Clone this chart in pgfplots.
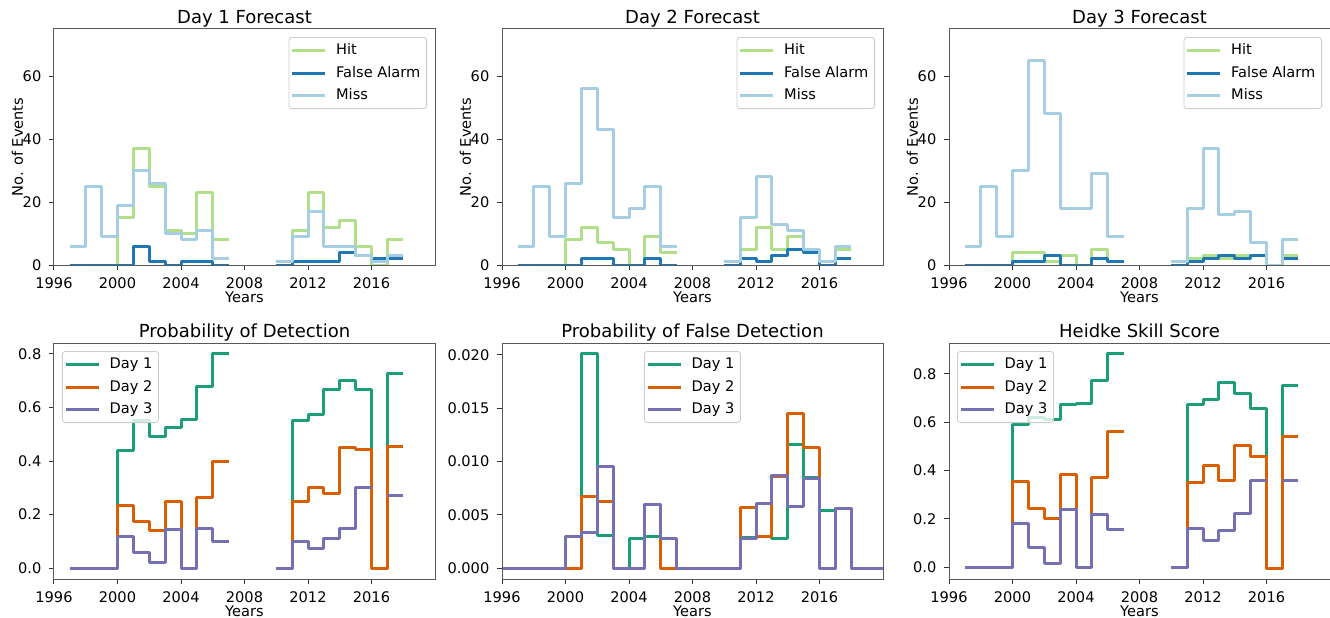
\documentclass[border=0pt]{standalone}
\usepackage{pgfplots}
\pgfplotsset{compat=1.18}
\usepackage{fontspec}
\setmainfont{DejaVu Sans}
\newcommand\ticksize{\fontsize{7.3}{8.8}\selectfont}
\newcommand\titlesize{\fontsize{9}{10.8}\selectfont}
\definecolor{cHit}{RGB}{178,223,138}
\definecolor{cFA}{RGB}{31,120,180}
\definecolor{cMiss}{RGB}{166,206,227}
\definecolor{cD1}{RGB}{27,158,119}
\definecolor{cD2}{RGB}{217,95,2}
\definecolor{cD3}{RGB}{117,112,179}
\pgfplotsset{
  every axis title shift=0pt,
  panel/.style={
    scale only axis, width=190.5pt, height=118pt,
    xmin=1996, xmax=2020,
    xtick={1996,2000,2004,2008,2012,2016},
    tick align=outside, tick pos=left, major tick length=2.5pt,
    every tick/.style={black!80, line width=0.5pt},
    axis line style={black!65, line width=0.5pt},
    axis on top,
    unbounded coords=jump, const plot,
    /pgf/number format/assume math mode=true,
    xticklabel style={anchor=base, inner sep=0pt, yshift=-9pt, font=\ticksize, /pgf/number format/1000 sep={}},
    yticklabel style={anchor=east, inner sep=0pt, xshift=-3.65pt, font=\ticksize},
    xlabel={Years},
    xlabel style={at={(axis description cs:0.5,-0.1568)}, anchor=base, font=\ticksize},
    title style={at={(axis description cs:0.5,1.0254)}, anchor=base, font=\titlesize},
    legend cell align=left,
    legend image code/.code={\draw[##1] (0pt,0pt) -- (16.5pt,0pt);},
    legend style={draw=black!20, fill=white, fill opacity=0.8, draw opacity=1, text opacity=1,
      rounded corners=1.5pt, inner sep=1pt, font=\ticksize, line width=0.4pt,
      nodes={inner sep=2.1pt, text height=5.6pt, text depth=1.4pt},
      /tikz/every odd column/.append style={column sep=2.5pt}},
  },
  top/.style={panel, ymin=0, ymax=75, ytick={0,20,40,60},
    ylabel={No. of Events},
    ylabel style={at={(axis description cs:-0.0814,0.5)}, anchor=base, font=\ticksize},
    legend style={at={(axis description cs:0.979,0.966)}, anchor=north east}},
  hit/.style={color=cHit, line width=1.5pt, line join=round},
  fa/.style={color=cFA, line width=1.5pt, line join=round},
  miss/.style={color=cMiss, line width=1.5pt, line join=round},
  d1/.style={color=cD1, line width=1.5pt, line join=round},
  d2/.style={color=cD2, line width=1.5pt, line join=round},
  d3/.style={color=cD3, line width=1.5pt, line join=round},
  onedec/.style={yticklabel style={/pgf/number format/.cd, fixed, fixed zerofill, precision=1}},
}
\begin{document}
\begin{tikzpicture}
\useasboundingbox (0,0) rectangle (665pt,308.5pt);
% ---------------- Day 1 Forecast
\begin{axis}[top, at={(27pt,176pt)}, anchor=south west, title={Day 1 Forecast}]
\addplot[hit] coordinates {(1997,0)(1998,0)(1999,0)(2000,15)(2001,37)(2002,25)(2003,11)(2004,10)(2005,23)(2006,8)(2007,8)(2008,nan)
 (2010,0)(2011,11)(2012,23)(2013,12)(2014,14)(2015,6)(2016,0)(2017,8)(2018,8)};
\addplot[fa] coordinates {(1997,0)(1998,0)(1999,0)(2000,0)(2001,6)(2002,1)(2003,0)(2004,1)(2005,1)(2006,0)(2007,0)(2008,nan)
 (2010,0)(2011,1)(2012,1)(2013,1)(2014,4)(2015,3)(2016,2)(2017,2)(2018,2)};
\addplot[miss] coordinates {(1997,6)(1998,25)(1999,9)(2000,19)(2001,30)(2002,26)(2003,10)(2004,8)(2005,11)(2006,2)(2007,2)(2008,nan)
 (2010,1)(2011,9)(2012,17)(2013,6)(2014,6)(2015,3)(2016,1)(2017,3)(2018,3)};
\legend{Hit,False Alarm,Miss}
\end{axis}
% ---------------- Day 2 Forecast
\begin{axis}[top, at={(251pt,176pt)}, anchor=south west, title={Day 2 Forecast}]
\addplot[hit] coordinates {(1997,0)(1998,0)(1999,0)(2000,8)(2001,12)(2002,7)(2003,5)(2004,0)(2005,9)(2006,4)(2007,4)(2008,nan)
 (2010,0)(2011,5)(2012,12)(2013,5)(2014,9)(2015,4)(2016,0)(2017,5)(2018,5)};
\addplot[fa] coordinates {(1997,0)(1998,0)(1999,0)(2000,0)(2001,2)(2002,2)(2003,0)(2004,0)(2005,2)(2006,0)(2007,0)(2008,nan)
 (2010,0)(2011,2)(2012,1)(2013,3)(2014,5)(2015,4)(2016,0)(2017,2)(2018,2)};
\addplot[miss] coordinates {(1997,6)(1998,25)(1999,9)(2000,26)(2001,56)(2002,43)(2003,15)(2004,18)(2005,25)(2006,6)(2007,6)(2008,nan)
 (2010,1)(2011,15)(2012,28)(2013,13)(2014,11)(2015,5)(2016,1)(2017,6)(2018,6)};
\legend{Hit,False Alarm,Miss}
\end{axis}
% ---------------- Day 3 Forecast
\begin{axis}[top, at={(474.5pt,176pt)}, anchor=south west, title={Day 3 Forecast}]
\addplot[hit] coordinates {(1997,0)(1998,0)(1999,0)(2000,4)(2001,4)(2002,1)(2003,3)(2004,0)(2005,5)(2006,1)(2007,1)(2008,nan)
 (2010,0)(2011,2)(2012,3)(2013,2)(2014,3)(2015,3)(2016,0)(2017,3)(2018,3)};
\addplot[fa] coordinates {(1997,0)(1998,0)(1999,0)(2000,1)(2001,1)(2002,3)(2003,0)(2004,0)(2005,2)(2006,1)(2007,1)(2008,nan)
 (2010,0)(2011,1)(2012,2)(2013,3)(2014,2)(2015,3)(2016,0)(2017,2)(2018,2)};
\addplot[miss] coordinates {(1997,6)(1998,25)(1999,9)(2000,30)(2001,65)(2002,48)(2003,18)(2004,18)(2005,29)(2006,9)(2007,9)(2008,nan)
 (2010,1)(2011,18)(2012,37)(2013,16)(2014,17)(2015,7)(2016,0)(2017,8)(2018,8)};
\legend{Hit,False Alarm,Miss}
\end{axis}
% ---------------- Probability of Detection
\begin{axis}[panel, onedec, at={(27pt,19pt)}, anchor=south west, title={Probability of Detection},
  ymin=-0.04, ymax=0.84, ytick={0,0.2,0.4,0.6,0.8},
  legend style={at={(axis description cs:0.021,0.966)}, anchor=north west}]
\addplot[d1] coordinates {(1997,0)(1998,0)(1999,0)(2000,0.441)(2001,0.552)(2002,0.490)(2003,0.524)(2004,0.556)(2005,0.676)(2006,0.800)(2007,0.800)(2008,nan)
 (2010,0)(2011,0.550)(2012,0.575)(2013,0.667)(2014,0.700)(2015,0.667)(2016,0)(2017,0.727)(2018,0.727)};
\addplot[d2] coordinates {(1997,0)(1998,0)(1999,0)(2000,0.235)(2001,0.176)(2002,0.140)(2003,0.250)(2004,0)(2005,0.265)(2006,0.400)(2007,0.400)(2008,nan)
 (2010,0)(2011,0.250)(2012,0.300)(2013,0.278)(2014,0.450)(2015,0.444)(2016,0)(2017,0.455)(2018,0.455)};
\addplot[d3] coordinates {(1997,0)(1998,0)(1999,0)(2000,0.118)(2001,0.058)(2002,0.020)(2003,0.143)(2004,0)(2005,0.147)(2006,0.100)(2007,0.100)(2008,nan)
 (2010,0)(2011,0.100)(2012,0.075)(2013,0.111)(2014,0.150)(2015,0.300)(2016,0.300)(2016.5,nan)(2017,0.273)(2018,0.273)};
\legend{Day 1,Day 2,Day 3}
\end{axis}
% ---------------- Probability of False Detection
\begin{axis}[panel, at={(251pt,19pt)}, anchor=south west, title={Probability of False Detection},
  ymin=-0.001, ymax=0.0211, ytick={0,0.005,0.010,0.015,0.020}, scaled y ticks=false,
  yticklabel style={/pgf/number format/.cd, fixed, fixed zerofill, precision=3},
  legend style={at={(axis description cs:0.5,0.966)}, anchor=north}]
\addplot[d1] coordinates {(1996,0)(1997,0)(1998,0)(1999,0)(2000,0)(2001,0.0201)(2002,0.0031)(2003,0)(2004,0.0028)(2005,0.0030)(2006,0)(2007,0)(2008,0)(2009,0)(2010,0)
 (2011,0.0029)(2012,0.0030)(2013,0.0028)(2014,0.0116)(2015,0.0085)(2016,0.0054)(2017,0.0056)(2018,0)(2019,0)(2020,0)};
\addplot[d2] coordinates {(1996,0)(1997,0)(1998,0)(1999,0)(2000,0)(2001,0.0067)(2002,0.0063)(2003,0)(2004,0)(2005,0.0060)(2006,0)(2007,0)(2008,0)(2009,0)(2010,0)
 (2011,0.0057)(2012,0.0030)(2013,0.0086)(2014,0.0145)(2015,0.0113)(2016,0)(2017,0.0056)(2018,0)(2019,0)(2020,0)};
\addplot[d3] coordinates {(1996,0)(1997,0)(1998,0)(1999,0)(2000,0.0030)(2001,0.0034)(2002,0.0095)(2003,0)(2004,0)(2005,0.0060)(2006,0.0028)(2007,0)(2008,0)(2009,0)(2010,0)
 (2011,0.0028)(2012,0.0061)(2013,0.0087)(2014,0.0058)(2015,0.0084)(2016,0)(2017,0.0056)(2018,0)(2019,0)(2020,0)};
\legend{Day 1,Day 2,Day 3}
\end{axis}
% ---------------- Heidke Skill Score
\begin{axis}[panel, onedec, at={(474.5pt,19pt)}, anchor=south west, title={Heidke Skill Score},
  ymin=-0.0484, ymax=0.928, ytick={0,0.2,0.4,0.6,0.8},
  legend style={at={(axis description cs:0.021,0.966)}, anchor=north west}]
\addplot[d1] coordinates {(1997,0)(1998,0)(1999,0)(2000,0.590)(2001,0.618)(2002,0.611)(2003,0.673)(2004,0.676)(2005,0.774)(2006,0.884)(2007,0.884)(2008,nan)
 (2010,0)(2011,0.673)(2012,0.694)(2013,0.763)(2014,0.721)(2015,0.657)(2016,-0.004)(2017,0.753)(2018,0.753)};
\addplot[d2] coordinates {(1997,0)(1998,0)(1999,0)(2000,0.356)(2001,0.243)(2002,0.201)(2003,0.383)(2004,0)(2005,0.370)(2006,0.563)(2007,0.563)(2008,nan)
 (2010,0)(2011,0.349)(2012,0.421)(2013,0.360)(2014,0.505)(2015,0.457)(2016,-0.003)(2017,0.542)(2018,0.542)};
\addplot[d3] coordinates {(1997,0)(1998,0)(1999,0)(2000,0.183)(2001,0.083)(2002,0.015)(2003,0.239)(2004,0)(2005,0.218)(2006,0.156)(2007,0.156)(2008,nan)
 (2010,0)(2011,0.160)(2012,0.110)(2013,0.153)(2014,0.221)(2015,0.360)(2016,0.360)(2016.5,nan)(2017,0.360)(2018,0.360)};
\legend{Day 1,Day 2,Day 3}
\end{axis}
\end{tikzpicture}
\end{document}
